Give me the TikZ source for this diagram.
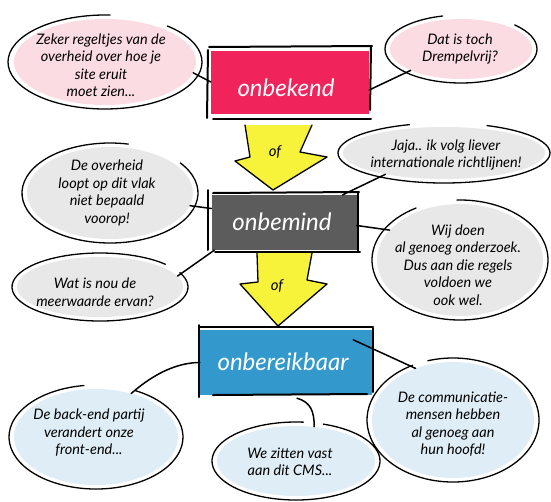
\documentclass[tikz,border=0pt]{standalone}
\usepackage{fontspec}
\setmainfont{Lato}
\usetikzlibrary{shapes.geometric}
\definecolor{pinkbox}{HTML}{F0235A}
\definecolor{graybox}{HTML}{5C5C5C}
\definecolor{bluebox}{HTML}{3399CC}
\definecolor{arrowyellow}{HTML}{F7F23A}
\definecolor{pinkfill}{HTML}{FBDCE2}
\definecolor{grayfill}{HTML}{E8E8E8}
\definecolor{bluefill}{HTML}{DFEDF6}
\begin{document}
\begin{tikzpicture}[x=1pt,y=-1pt,
  bubblefill/.style={ellipse, inner sep=0pt, draw=none},
  btext/.style={align=center, font=\fontsize{14.5}{17.5}\selectfont\itshape, text=black, inner sep=0pt},
  outline/.style={draw=black, line width=1.3pt, line cap=round},
  conn/.style={draw=black, line width=1.5pt, line cap=round},
  boxnode/.style={rectangle, inner sep=0pt, draw=none},
  boxlabel/.style={text=white, inner sep=0pt, font=\fontsize{24}{28}\selectfont\itshape},
  sketch/.style={draw=black, line width=2pt, line cap=round},
  arrowline/.style={draw=black, line width=1.3pt, line join=round, line cap=round},
  oftext/.style={inner sep=0pt, font=\fontsize{15}{17}\selectfont\itshape}
]
\fill[white] (0,0) rectangle (551,501);
\useasboundingbox (0,0) rectangle (551,501);

% ---------- yellow arrows ----------
\fill[arrowyellow] (245,125) -- (250,157) -- (235,161) -- (273,190) -- (327,157) -- (300,152) -- (312,125) -- cycle;
\draw[arrowline] (245,125) -- (250,157) -- (235,161) -- (273,190) -- (327,157) -- (300,152) -- (312,125);
\node[oftext] (of1) at (275,152) {of};
\fill[arrowyellow] (257,253) -- (258,282) -- (240,284) -- (278,326) -- (327,284) -- (307,280) -- (312,253) -- cycle;
\draw[arrowline] (257,253) -- (258,282) -- (240,284) -- (278,326) -- (327,284) -- (307,280) -- (312,253);
\node[oftext] (of2) at (277,286) {of};

% ---------- boxes ----------
\node[boxnode, fill=pinkbox, minimum width=158pt, minimum height=63pt] (box1) at (290,82) {};
\node[boxlabel] (l1) at (286,88) {onbekend};
\draw[sketch] (209,47) -- (372,46);
\draw[sketch] (208,50) -- (207,118);
\draw[sketch] (213,119) -- (371,119);
\draw[sketch] (371,47) -- (370,110);

\node[boxnode, fill=graybox, minimum width=145pt, minimum height=55pt] (box2) at (284,222.5) {};
\node[boxlabel] (l2) at (282,222) {onbemind};
\draw[sketch] (213,193) -- (359,192);
\draw[sketch] (208,190) -- (208,250);
\draw[sketch] (215,252) -- (360,252);
\draw[sketch] (358,192) -- (358,251);

\node[boxnode, fill=bluebox, minimum width=172pt, minimum height=65pt] (box3) at (286,362.5) {};
\node[boxlabel] (l3) at (283,362) {onbereikbaar};
\draw[sketch] (200,327) -- (373,327);
\draw[sketch] (199,325) -- (199,397);
\draw[sketch] (213,395) -- (367,394);
\draw[sketch] (373,328) -- (373,392);

% ---------- bubble fills ----------
\node[bubblefill, fill=pinkfill, minimum width=182pt, minimum height=86pt] (e1) at (105,62) {};
\node[bubblefill, fill=pinkfill, minimum width=142pt, minimum height=60pt] (e2) at (461,49) {};
\node[bubblefill, fill=grayfill, minimum width=166pt, minimum height=92pt] (e3) at (110,193) {};
\node[bubblefill, fill=grayfill, minimum width=166pt, minimum height=60pt] (e4) at (100,287) {};
\node[bubblefill, fill=grayfill, minimum width=202pt, minimum height=52pt] (e5) at (444,153) {};
\node[bubblefill, fill=grayfill, minimum width=166pt, minimum height=112pt] (e6) at (460,260) {};
\node[bubblefill, fill=bluefill, minimum width=164pt, minimum height=96pt] (e7) at (96,437) {};
\node[bubblefill, fill=bluefill, minimum width=158pt, minimum height=70pt] (e8) at (296,461) {};
\node[bubblefill, fill=bluefill, minimum width=162pt, minimum height=116pt] (e9) at (453,420) {};

% ---------- bubble outlines ----------
\draw[outline] (e1.center) ++(-50:97 and 47) arc[start angle=-50, end angle=273, x radius=97, y radius=47];
\draw[outline] (e2.center) ++(-45:76 and 34) arc[start angle=-45, end angle=256, x radius=76, y radius=34];
\draw[outline] (e3.center) ++(-37:88 and 50) arc[start angle=-37, end angle=282, x radius=88, y radius=50];
\draw[outline] (e4.center) ++(-25:88 and 34) arc[start angle=-25, end angle=318, x radius=88, y radius=34];
\draw[outline] (e5.center) ++(294:106 and 30) arc[start angle=294, end angle=611, x radius=106, y radius=30];
\draw[outline] (e6.center) ++(268:88 and 60) arc[start angle=268, end angle=600, x radius=88, y radius=60];
\draw[outline] (e7.center) ++(297:87 and 52) arc[start angle=297, end angle=622, x radius=87, y radius=52];
\draw[outline] (e8.center) ++(289:84 and 39) arc[start angle=289, end angle=635, x radius=84, y radius=39];
\draw[outline] (e9.center) ++(253:86 and 62) arc[start angle=253, end angle=602, x radius=86, y radius=62];

% ---------- bubble texts ----------
\node[btext] (b1) at (101,65) {Zeker regeltjes van de\\overheid over hoe je\\site eruit\\moet zien...};
\node[btext] (b2) at (460,49) {Dat is toch\\Drempelvrij?};
\node[btext] (b3) at (107,193) {De overheid\\loopt op dit vlak\\niet bepaald\\voorop!};
\node[btext] (b4) at (95,292) {Wat is nou de\\meerwaarde ervan?};
\node[btext] (b5) at (446,155) {Jaja.. ik volg liever\\internationale richtlijnen!};
\node[btext] (b6) at (458,265) {Wij doen\\al genoeg onderzoek.\\Dus aan die regels\\voldoen we\\ook wel.};
\node[btext] (b7) at (89,433) {De back-end partij\\verandert onze\\front-end...};
\node[btext] (b8) at (290,462) {We zitten vast\\aan dit CMS...};
\node[btext] (b9) at (453,424) {De communicatie-\\mensen hebben\\al genoeg aan\\hun hoofd!};

% ---------- connectors ----------
\draw[conn] (e1.-7) -- (box1.west);
\draw[conn] (e2.203) -- ([yshift=-8pt]box1.east);
\draw[conn] (e3.-9) -- ([yshift=14pt]box2.west);
\draw[conn] (e4.8) -- ([xshift=3pt]box2.south west);
\draw[conn] (e5.200) -- ([xshift=-14pt]box2.north east);
\draw[conn] ([yshift=-3pt]box2.east) -- (e6.157);
\draw[conn] (e7.51) .. controls +(25,-22) and +(-20,0) .. (box3.west);
\draw[conn] ([xshift=11pt,yshift=-3pt]box3.south) .. controls +(14,4) and +(0,-15) .. (e8.62);
\draw[conn] ([xshift=-19pt,yshift=-10pt]box3.north east) -- (e9.126);
\end{tikzpicture}
\end{document}
